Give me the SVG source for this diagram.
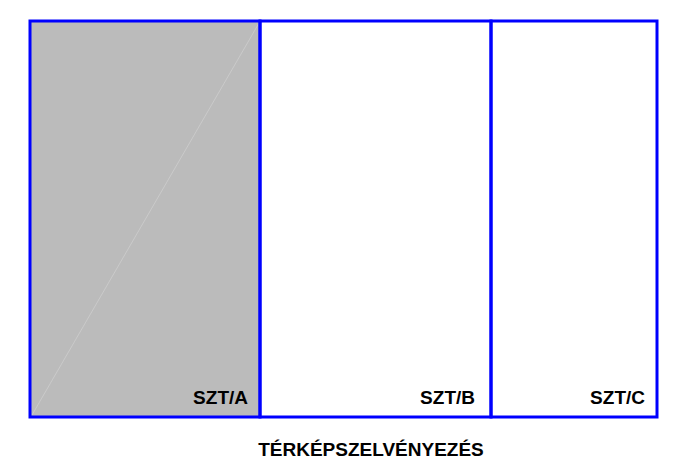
<svg xmlns="http://www.w3.org/2000/svg" width="676" height="461" viewBox="0 0 676 461">
<style>
.cell{fill:none;stroke:#0000ff;stroke-width:3}
.lbl{font-family:"Liberation Sans",Arial,sans-serif;font-weight:bold;font-size:19px;fill:#000;text-anchor:end}
.title{font-family:"Liberation Sans",Arial,sans-serif;font-weight:bold;font-size:19px;fill:#000;text-anchor:middle}
</style>
<rect width="676" height="461" fill="#ffffff"/>
<g id="szt-a">
<rect x="30" y="21" width="230" height="396" fill="#bbbbbb" stroke="none"/>
<line x1="32" y1="415" x2="259" y2="23" stroke="#cacaca" stroke-width="1"/>
<rect class="cell" x="30" y="21" width="230" height="396"/>
<text class="lbl" x="248" y="404">SZT/A</text>
</g>
<g id="szt-b">
<rect class="cell" x="260" y="21" width="231" height="396"/>
<text class="lbl" x="475" y="404">SZT/B</text>
</g>
<g id="szt-c">
<rect class="cell" x="491" y="21" width="166" height="396"/>
<text class="lbl" x="645" y="404">SZT/C</text>
</g>
<g id="connectors"></g>
<text class="title" x="371" y="456">TÉRKÉPSZELVÉNYEZÉS</text>
</svg>
